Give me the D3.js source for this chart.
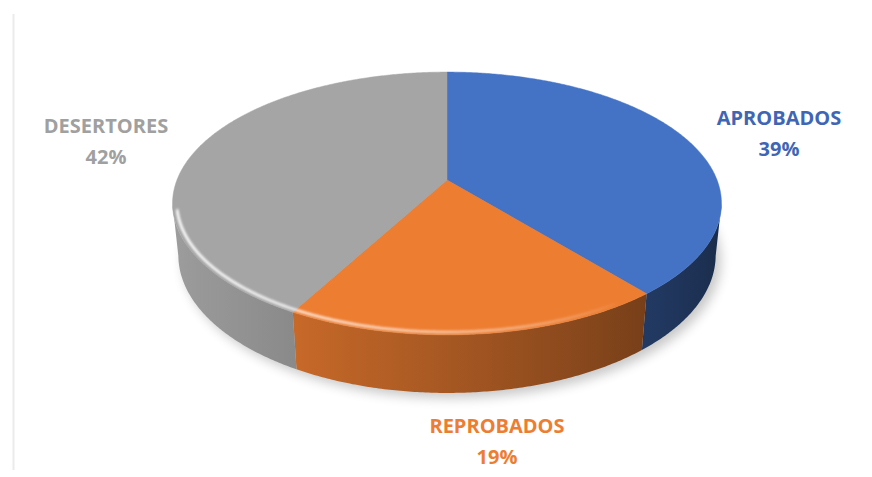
<!DOCTYPE html>
<html>
<head>
<meta charset="utf-8">
<script src="https://cdn.jsdelivr.net/npm/d3@7"></script>
<style>
  html, body { margin: 0; padding: 0; background: #ffffff; }
  svg { display: block; }
</style>
</head>
<body>
<svg id="chart" width="872" height="477"></svg>
<script>
// ---- data ----
const categories = ["APROBADOS", "REPROBADOS", "DESERTORES"];
const values = [39, 19, 42];
const percentLabels = ["39%", "19%", "42%"];
const colors = ["#4472C4", "#ED7D31", "#A5A5A5"];
const labelColors = ["#3F66B5", "#ED7D31", "#A0A0A0"];

// ---- layout / 3D projection ----
const cx = 447, cy = 180;
const sa = 0.471, ca = Math.sqrt(1 - sa * sa);
const Dcam = 4.94, focal = 1334, thick = 0.219;

function proj(theta, r, h) {
  const X = r * Math.sin(theta), Z = r * Math.cos(theta), Y = h;
  const xc = X, yc = Y * ca + Z * sa, zc = Dcam + Z * ca - Y * sa;
  return [cx + focal * xc / zc, cy - focal * yc / zc];
}

const svg = d3.select("#chart");
const defs = svg.append("defs");
defs.append("filter").attr("id", "blur6").attr("x", "-20%").attr("y", "-20%")
  .attr("width", "140%").attr("height", "140%")
  .append("feGaussianBlur").attr("stdDeviation", 6);
defs.append("filter").attr("id", "blur1")
  .append("feGaussianBlur").attr("stdDeviation", 1.2);

// faint frame line at left
svg.append("line").attr("x1", 13.5).attr("x2", 13.5).attr("y1", 14).attr("y2", 470)
  .attr("stroke", "#ebebeb").attr("stroke-width", 2);

const pie = d3.pie().sort(null).value(d => d.value);
const data = categories.map((c, i) => ({ name: c, value: values[i], pct: percentLabels[i], color: colors[i], lc: labelColors[i] }));
const arcs = pie(data);

const line = d3.line();
const step = Math.PI / 360;
function samples(a0, a1) {
  const n = Math.max(2, Math.ceil((a1 - a0) / step));
  return d3.range(n + 1).map(i => a0 + (a1 - a0) * i / n);
}

// shadow (bottom outline, blurred)
const bottomPts = samples(0, 2 * Math.PI).map(t => proj(t, 1.0, -thick));
svg.append("path")
  .attr("d", line(bottomPts) + "Z")
  .attr("transform", "translate(5,5)")
  .attr("fill", "#000").attr("opacity", 0.22)
  .attr("filter", "url(#blur6)");

// visible wall range
const ts = Math.acos(-1 / (Dcam * ca));
const vis0 = ts, vis1 = 2 * Math.PI - ts;
const lightDir = 260 * Math.PI / 180;
function shade(theta) { return 0.65 + 0.3 * Math.cos(theta - lightDir); }

const walls = svg.append("g");
arcs.forEach((a, idx) => {
  const a0 = Math.max(a.startAngle, vis0 - 0.05), a1 = Math.min(a.endAngle, vis1 + 0.05);
  if (a1 <= a0) return;
  const tt = samples(a0, a1);
  const topPts = tt.map(t => proj(t, 1, 0));
  const botPts = tt.map(t => proj(t, 1, -thick)).reverse();
  // horizontal gradient following the lighting along the rim
  const xs = topPts.map(p => p[0]);
  const xmin = d3.min(xs), xmax = d3.max(xs);
  const gid = "wallgrad" + idx;
  const g = defs.append("linearGradient").attr("id", gid)
    .attr("gradientUnits", "userSpaceOnUse")
    .attr("x1", xmin).attr("x2", xmax).attr("y1", 0).attr("y2", 0);
  const c = d3.rgb(a.data.color);
  const stops = tt.map((t, i) => ({ off: (xs[i] - xmin) / Math.max(1e-6, xmax - xmin), k: shade(t) }))
    .sort((p, q) => p.off - q.off);
  stops.filter((s, i) => i % 6 === 0 || i === stops.length - 1).forEach(s => {
    g.append("stop").attr("offset", s.off)
      .attr("stop-color", d3.rgb(c.r * s.k, c.g * s.k, c.b * s.k));
  });
  walls.append("path").attr("d", line(topPts.concat(botPts)) + "Z")
    .attr("fill", `url(#${gid})`);
});

// top faces
const tops = svg.append("g");
arcs.forEach(a => {
  const pts = [proj(0, 0, 0)].concat(samples(a.startAngle, a.endAngle).map(t => proj(t, 1, 0)));
  tops.append("path").attr("d", line(pts) + "Z")
    .attr("fill", a.data.color).attr("stroke", a.data.color).attr("stroke-width", 0.5);
});

// bevel highlight along front rim
const hl = svg.append("g").attr("filter", "url(#blur1)");
const hs = samples(vis0 + 0.15, vis1);
for (let i = 0; i < hs.length - 1; i++) {
  const t0 = hs[i], t1 = hs[i + 1];
  const op = Math.max(0, Math.cos((t0 + t1) / 2 - 235 * Math.PI / 180)) * 0.55;
  if (op < 0.02) continue;
  hl.append("path").attr("d", line([proj(t0, 0.985, 0), proj(t1, 0.985, 0)]))
    .attr("stroke", "#ffffff").attr("stroke-opacity", op).attr("stroke-width", 3)
    .attr("stroke-linecap", "round").attr("fill", "none");
}

// labels
const labelPos = [[779, 125], [497, 433], [106, 133]];
const lg = svg.append("g").attr("font-family", "'Open Sans', 'DejaVu Sans', sans-serif")
  .attr("font-weight", 700).attr("text-anchor", "middle");
arcs.forEach((a, i) => {
  const [x, y] = labelPos[i];
  lg.append("text").attr("x", x).attr("y", y).attr("font-size", 20)
    .attr("fill", a.data.lc).text(a.data.name);
  lg.append("text").attr("x", x).attr("y", y + 31).attr("font-size", 20)
    .attr("fill", a.data.lc).text(a.data.pct);
});
</script>
</body>
</html>
